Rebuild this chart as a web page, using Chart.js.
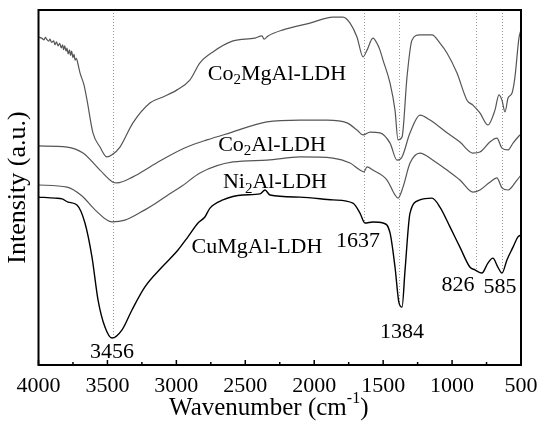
<!DOCTYPE html>
<html>
<head>
<meta charset="utf-8">
<script src="https://cdn.jsdelivr.net/npm/chart.js@4.4.0/dist/chart.umd.min.js"></script>
<style>
  html, body { margin: 0; padding: 0; background: #fff; }
  #wrap { width: 539px; height: 424px; }
</style>
</head>
<body>
<div id="wrap"><canvas id="ftirChart" width="539" height="424"></canvas></div>
<script>
// Spectra (wavenumber in cm-1, intensity in arbitrary units 0-100)
const co2mgalX = [4000, 3975, 3960, 3950, 3940, 3925, 3917, 3905, 3890, 3880, 3870, 3858, 3846, 3835, 3825, 3818, 3810, 3800, 3793, 3785, 3775, 3768, 3760, 3750, 3742, 3735, 3725, 3715, 3699, 3670, 3648, 3605, 3554, 3503, 3467, 3409, 3315, 3192, 3097, 2995, 2901, 2829, 2735, 2589, 2430, 2379, 2364, 2335, 2226, 2031, 1864, 1791, 1740, 1690, 1646, 1617, 1574, 1538, 1523, 1501, 1450, 1414, 1392, 1363, 1327, 1291, 1233, 1146, 1088, 1037, 965, 892, 849, 798, 740, 689, 660, 638, 616, 594, 565, 544, 515, 500];
const co2mgalY = [92.4, 92.0, 91.6, 92.3, 91.7, 91.2, 91.8, 90.9, 91.3, 90.2, 91.0, 89.9, 90.6, 89.3, 90.2, 88.8, 89.9, 88.4, 89.3, 87.6, 88.8, 87.2, 88.4, 86.6, 87.5, 85.9, 86.4, 85.0, 82.3, 78.9, 74.6, 65.4, 61.4, 58.6, 59.2, 61.4, 68.2, 73.8, 75.5, 77.5, 80.3, 85.1, 88.2, 91.3, 92.1, 92.7, 91.8, 92.7, 94.4, 96.3, 98.0, 98.0, 96.3, 92.4, 86.8, 88.7, 92.1, 90.1, 88.7, 85.9, 79.4, 71.8, 63.4, 64.2, 81.1, 91.5, 93.0, 93.0, 90.7, 87.9, 82.3, 74.6, 73.2, 71.0, 67.6, 71.8, 76.1, 74.6, 71.3, 75.2, 76.6, 81.1, 92.1, 94.4];

const co2alX = [4000, 3793, 3677, 3554, 3460, 3431, 3315, 3192, 3068, 2923, 2778, 2611, 2343, 2104, 1907, 1762, 1690, 1646, 1595, 1523, 1450, 1399, 1363, 1305, 1233, 1160, 1037, 943, 849, 798, 726, 675, 638, 594, 558, 515, 500];
const co2alY = [61.7, 61.4, 59.7, 54.9, 51.5, 51.3, 53.0, 55.8, 58.6, 61.4, 63.4, 65.4, 68.5, 69.0, 69.0, 68.2, 66.2, 64.8, 65.6, 65.4, 62.5, 57.7, 58.6, 65.4, 70.4, 69.0, 65.4, 62.8, 59.7, 60.0, 62.8, 63.9, 61.1, 60.6, 62.5, 64.5, 65.1];

const ni2alX = [4000, 3793, 3684, 3590, 3467, 3373, 3228, 3155, 3061, 2959, 2829, 2589, 2343, 2104, 1864, 1740, 1668, 1639, 1617, 1574, 1472, 1414, 1392, 1356, 1305, 1233, 1138, 1037, 943, 849, 798, 726, 675, 638, 594, 529, 500];
const ni2alY = [50.7, 50.1, 47.6, 43.7, 40.3, 40.8, 43.7, 45.4, 47.9, 50.4, 54.1, 57.2, 57.7, 58.6, 58.3, 56.9, 54.9, 54.4, 55.8, 54.9, 52.1, 47.9, 47.0, 50.1, 56.9, 59.7, 57.7, 54.9, 52.1, 48.7, 49.3, 51.5, 52.7, 49.9, 49.3, 52.1, 53.5];

const cumgalX = [4000, 3880, 3829, 3786, 3721, 3663, 3612, 3568, 3518, 3467, 3394, 3322, 3228, 3104, 2988, 2916, 2843, 2793, 2756, 2662, 2517, 2393, 2357, 2321, 2104, 1864, 1719, 1668, 1632, 1574, 1501, 1450, 1414, 1385, 1363, 1341, 1305, 1233, 1146, 1088, 1015, 943, 871, 834, 784, 740, 704, 668, 638, 602, 558, 522, 500];
const cumgalY = [47.3, 47.0, 46.8, 45.9, 45.1, 40.0, 30.4, 18.3, 10.7, 7.6, 9.9, 15.5, 22.0, 27.6, 32.4, 36.1, 40.0, 41.7, 44.2, 46.5, 47.9, 48.2, 49.3, 47.9, 47.3, 46.5, 45.6, 42.8, 40.0, 40.3, 40.0, 37.2, 27.6, 17.5, 16.3, 26.8, 42.8, 46.5, 47.0, 44.5, 38.9, 33.2, 27.6, 26.8, 25.9, 28.7, 30.1, 27.6, 25.9, 29.6, 33.2, 36.1, 36.6];

// Series labels: text parts (true = subscript), placed at wavenumber / intensity
const seriesNames = ["Co2MgAl-LDH", "Co2Al-LDH", "Ni2Al-LDH", "CuMgAl-LDH"];
const seriesLabelParts = [
  [["Co", false], ["2", true], ["MgAl-LDH", false]],
  [["Co", false], ["2", true], ["Al-LDH", false]],
  [["Ni", false], ["2", true], ["Al-LDH", false]],
  [["CuMgAl-LDH", false]]
];
const seriesLabelX = [2270, 2306, 2285, 2415];
const seriesLabelY = [82, 62, 51.5, 33.2];
const seriesColors = ["#555555", "#555555", "#555555", "#000000"];

// Marked peaks: dotted line position, where it stops, and the label
const peakLineX = [3456, 1637, 1384, 826, 636];
const peakLineBottom = [7.5, 40, 17, 26.5, 26.5];
const peakText = ["3456", "1637", "1384", "826", "585"];
const peakTextX = [3467, 1683, 1363, 957, 652];
const peakTextY = [3.7, 34.9, 9.3, 22.5, 22];

const xTicks = [4000, 3500, 3000, 2500, 2000, 1500, 1000, 500];
const xMinorTicks = [3750, 3250, 2750, 2250, 1750, 1250, 750];

const FONT = "'Liberation Serif', 'Times New Roman', serif";

function drawParts(ctx, parts, cx, cy, size) {
  const subSize = Math.round(size * 0.68);
  let total = 0;
  parts.forEach(p => {
    ctx.font = (p[1] ? subSize : size) + "px " + FONT;
    total += ctx.measureText(p[0]).width;
  });
  let x = cx - total / 2;
  ctx.textAlign = "left";
  ctx.textBaseline = "middle";
  parts.forEach(p => {
    ctx.font = (p[1] ? subSize : size) + "px " + FONT;
    ctx.fillText(p[0], x, p[1] ? cy + size * 0.3 : cy);
    x += ctx.measureText(p[0]).width;
  });
}

const ftirDecor = {
  id: "ftirDecor",
  beforeDatasetsDraw(chart) {
    const ctx = chart.ctx;
    const xs = chart.scales.x, ys = chart.scales.y;
    const area = chart.chartArea;
    ctx.save();
    ctx.strokeStyle = "#9a9a9a";
    ctx.lineWidth = 1;
    ctx.setLineDash([1, 2]);
    peakLineX.forEach((w, i) => {
      const px = Math.round(xs.getPixelForValue(w)) + 0.5;
      ctx.beginPath();
      ctx.moveTo(px, area.top);
      ctx.lineTo(px, ys.getPixelForValue(peakLineBottom[i]));
      ctx.stroke();
    });
    ctx.restore();
  },
  afterDraw(chart) {
    const ctx = chart.ctx;
    const xs = chart.scales.x, ys = chart.scales.y;
    const area = chart.chartArea;
    ctx.save();
    ctx.fillStyle = "#000";
    // series labels
    seriesLabelParts.forEach((parts, i) => {
      drawParts(ctx, parts, xs.getPixelForValue(seriesLabelX[i]), ys.getPixelForValue(seriesLabelY[i]), 22);
    });
    // peak labels
    ctx.font = "22px " + FONT;
    ctx.textAlign = "center";
    ctx.textBaseline = "middle";
    peakText.forEach((t, i) => {
      ctx.fillText(t, xs.getPixelForValue(peakTextX[i]), ys.getPixelForValue(peakTextY[i]));
    });
    // frame
    ctx.strokeStyle = "#000";
    ctx.lineWidth = 2;
    ctx.strokeRect(area.left, area.top, area.right - area.left, area.bottom - area.top);
    // inward ticks on the bottom axis
    ctx.lineWidth = 1.5;
    xTicks.forEach(v => {
      const px = xs.getPixelForValue(v);
      ctx.beginPath();
      ctx.moveTo(px, area.bottom);
      ctx.lineTo(px, area.bottom - 5);
      ctx.stroke();
    });
    xMinorTicks.forEach(v => {
      const px = xs.getPixelForValue(v);
      ctx.beginPath();
      ctx.moveTo(px, area.bottom);
      ctx.lineTo(px, area.bottom - 3);
      ctx.stroke();
    });
    // x title with superscript
    const title = [["Wavenumber (cm", 0], ["-1", 1], [")", 0]];
    let total = 0;
    title.forEach(p => {
      ctx.font = (p[1] ? 16 : 25) + "px " + FONT;
      total += ctx.measureText(p[0]).width;
    });
    let x = (area.left + area.right) / 2 - total / 2 - 11;
    const ty = 408;
    ctx.textAlign = "left";
    title.forEach(p => {
      ctx.font = (p[1] ? 16 : 25) + "px " + FONT;
      ctx.fillText(p[0], x, p[1] ? ty - 9 : ty);
      x += ctx.measureText(p[0]).width;
    });
    ctx.restore();
  }
};

const xArrays = [co2mgalX, co2alX, ni2alX, cumgalX];
const yArrays = [co2mgalY, co2alY, ni2alY, cumgalY];

const datasets = seriesNames.map((name, i) => ({
  label: name,
  data: xArrays[i].map((w, j) => ({ x: w, y: yArrays[i][j] })),
  borderColor: seriesColors[i],
  borderWidth: i === 3 ? 1.4 : 1.2,
  pointRadius: 0,
  fill: false,
  cubicInterpolationMode: "monotone"
}));

new Chart(document.getElementById("ftirChart").getContext("2d"), {
  type: "line",
  data: { datasets: datasets },
  options: {
    responsive: false,
    animation: false,
    layout: { padding: { top: 10, right: 18, left: 0, bottom: 0 } },
    plugins: { legend: { display: false }, tooltip: { enabled: false } },
    scales: {
      x: {
        type: "linear",
        reverse: true,
        min: 500,
        max: 4000,
        grid: { display: false },
        border: { display: false },
        ticks: {
          stepSize: 500,
          color: "#000",
          font: { family: FONT, size: 22 },
          padding: 0,
          maxRotation: 0,
          callback: v => String(v)
        },
        afterFit(scale) { scale.height = 59; }
      },
      y: {
        min: 0,
        max: 100,
        grid: { display: false },
        border: { display: false },
        ticks: { display: false },
        title: {
          display: true,
          text: "Intensity (a.u.)",
          color: "#000",
          font: { family: FONT, size: 26 },
          padding: { top: 3, bottom: 0 }
        },
        afterFit(scale) { scale.width = 38.5; }
      }
    }
  },
  plugins: [ftirDecor]
});
</script>
</body>
</html>
